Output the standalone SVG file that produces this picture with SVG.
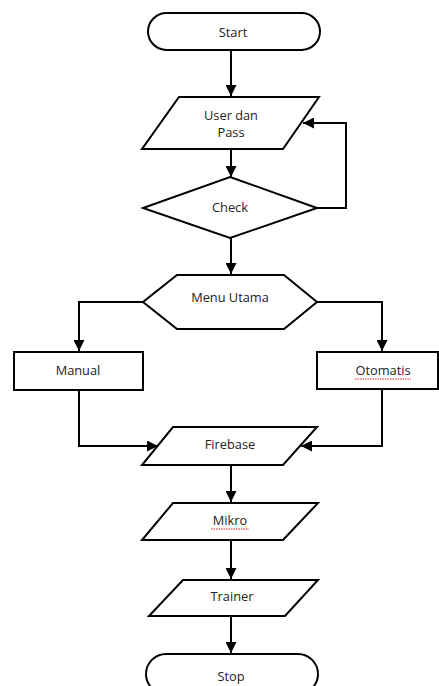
<svg xmlns="http://www.w3.org/2000/svg" width="439" height="686" viewBox="0 0 439 686">
<style>
.s{fill:#fff;stroke:#000;stroke-width:2;stroke-linejoin:miter}
.c{fill:none;stroke:#000;stroke-width:2}
.t{font-family:"Open Sans","Liberation Sans",sans-serif;font-size:12.8px;fill:#222;text-anchor:middle;dominant-baseline:central}
.w{fill:none;stroke:#e02020;stroke-width:1;stroke-dasharray:1.5 1}
</style>
<defs>
<marker id="a" viewBox="0 0 10 10" refX="10" refY="5" markerWidth="5.5" markerHeight="5.5" orient="auto" markerUnits="strokeWidth">
<path d="M0,0 L10,5 L0,10 z" fill="#000"/>
</marker>
</defs>
<rect width="439" height="686" fill="#fff"/>
<g id="connectors">
<path class="c" d="M231,50 V96" marker-end="url(#a)"/>
<path class="c" d="M231,149 V177" marker-end="url(#a)"/>
<path class="c" d="M317,208 H346 V123 H303" marker-end="url(#a)"/>
<path class="c" d="M231,238 V274" marker-end="url(#a)"/>
<path class="c" d="M143,302 H79 V351" marker-end="url(#a)"/>
<path class="c" d="M317,302 H382 V351" marker-end="url(#a)"/>
<path class="c" d="M79,390 V446 H158" marker-end="url(#a)"/>
<path class="c" d="M382,389 V446 H301" marker-end="url(#a)"/>
<path class="c" d="M231,465 V502" marker-end="url(#a)"/>
<path class="c" d="M231,540 V579" marker-end="url(#a)"/>
<path class="c" d="M231,616 V653" marker-end="url(#a)"/>
</g>
<g id="start">
<rect class="s" x="148" y="13" width="172" height="37" rx="18.5"/>
<text class="t" x="233" y="32">Start</text>
</g>
<g id="userpass">
<path class="s" d="M179,97 H319 L283,149 H142 Z"/>
<text class="t" x="231" y="115">User dan</text>
<text class="t" x="231" y="132">Pass</text>
</g>
<g id="check">
<path class="s" d="M230,177 L317,208 L230,238 L143,208 Z"/>
<text class="t" x="230" y="207">Check</text>
</g>
<g id="menu">
<path class="s" d="M177,275 H284 L317,302 L284,329 H177 L143,302 Z"/>
<text class="t" x="230" y="297">Menu Utama</text>
</g>
<g id="manual">
<rect class="s" x="14" y="352" width="129" height="38"/>
<text class="t" x="78" y="370">Manual</text>
</g>
<g id="otomatis">
<rect class="s" x="317" y="352" width="121" height="37"/>
<text class="t" x="383" y="370">Otomatis</text>
<path class="w" d="M355,379 H411"/>
</g>
<g id="firebase">
<path class="s" d="M173,427 H317 L283,465 H142 Z"/>
<text class="t" x="230" y="444">Firebase</text>
</g>
<g id="mikro">
<path class="s" d="M173,503 H318 L283,540 H142 Z"/>
<text class="t" x="230" y="520">Mikro</text>
<path class="w" d="M211,529 H249"/>
</g>
<g id="trainer">
<path class="s" d="M183,580 H318 L285,616 H149 Z"/>
<text class="t" x="232" y="596">Trainer</text>
</g>
<g id="stop">
<rect class="s" x="146" y="654" width="172" height="40" rx="20"/>
<text class="t" x="231" y="676">Stop</text>
</g>
</svg>
